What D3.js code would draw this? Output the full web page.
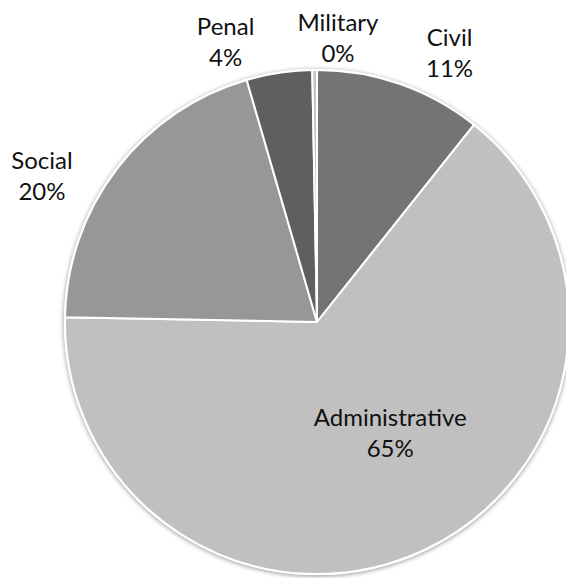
<!DOCTYPE html>
<html>
<head>
<meta charset="utf-8">
<script src="https://cdn.jsdelivr.net/npm/d3@7"></script>
<style>
  html, body { margin: 0; padding: 0; background: #fff; }
  svg { display: block; }
  text { font-family: Lato, "Open Sans", sans-serif; fill: #111; }
</style>
</head>
<body>
<div id="chart"></div>
<script>
// slice data, clockwise from 12 o'clock
const categories = ["Civil", "Administrative", "Social", "Penal", "Military"];
const shares = [10.7, 64.6, 20.2, 4.2, 0.3];
const labels = ["11%", "65%", "20%", "4%", "0%"];

const colors = ["#747474", "#c0c0c0", "#979797", "#5f5f5f", "#c4c4c4"];
// label nudges: [degrees from slice middle, radius as share of pie radius]
const labelNudge = [[7.7, 1.16], [-6.3, 0.556], [-10.9, 1.22], [-10, 1.135], [4.9, 1.095]];

const width = 566, height = 578;
const cx = 317, cy = 322, radius = 252;

const svg = d3.select("#chart").append("svg")
  .attr("width", width)
  .attr("height", height);

const defs = svg.append("defs");
const shadow = defs.append("filter").attr("id", "shadow")
  .attr("x", "-10%").attr("y", "-10%").attr("width", "120%").attr("height", "120%");
shadow.append("feGaussianBlur").attr("in", "SourceAlpha").attr("stdDeviation", 2.5).attr("result", "blur");
shadow.append("feOffset").attr("in", "blur").attr("dx", 0).attr("dy", 1).attr("result", "off");
shadow.append("feComponentTransfer").attr("in", "off").attr("result", "soft")
  .append("feFuncA").attr("type", "linear").attr("slope", 0.45);
const merge = shadow.append("feMerge");
merge.append("feMergeNode").attr("in", "soft");
merge.append("feMergeNode").attr("in", "SourceGraphic");

const data = categories.map((c, i) => ({ name: c, value: shares[i], label: labels[i], i }));

const pie = d3.pie().value(d => d.value).sort(null);
const arc = d3.arc().innerRadius(0).outerRadius(radius);
const arcs = pie(data);

const g = svg.append("g").attr("transform", `translate(${cx},${cy})`);

g.append("circle")
  .attr("r", radius + 1)
  .attr("fill", "#fff")
  .attr("filter", "url(#shadow)");

g.selectAll("path.slice")
  .data(arcs)
  .enter()
  .append("path")
  .attr("class", "slice")
  .attr("d", arc)
  .attr("fill", d => colors[d.data.i])
  .attr("stroke", "#fff")
  .attr("stroke-width", 2)
  .attr("stroke-linejoin", "round");

const lineH = 31;

const lbl = g.selectAll("text.lbl")
  .data(arcs)
  .enter()
  .append("text")
  .attr("class", "lbl")
  .attr("text-anchor", "middle")
  .style("font-size", "24px")
  .attr("transform", d => {
    const mid = (d.startAngle + d.endAngle) / 2;
    const n = labelNudge[d.data.i];
    const a = mid + n[0] * Math.PI / 180;
    const r = radius * n[1];
    return `translate(${r * Math.sin(a)},${-r * Math.cos(a)})`;
  });

lbl.append("tspan").attr("x", 0).attr("y", -lineH / 2).text(d => d.data.name);
lbl.append("tspan").attr("x", 0).attr("y", lineH / 2).text(d => d.data.label);
</script>
</body>
</html>
